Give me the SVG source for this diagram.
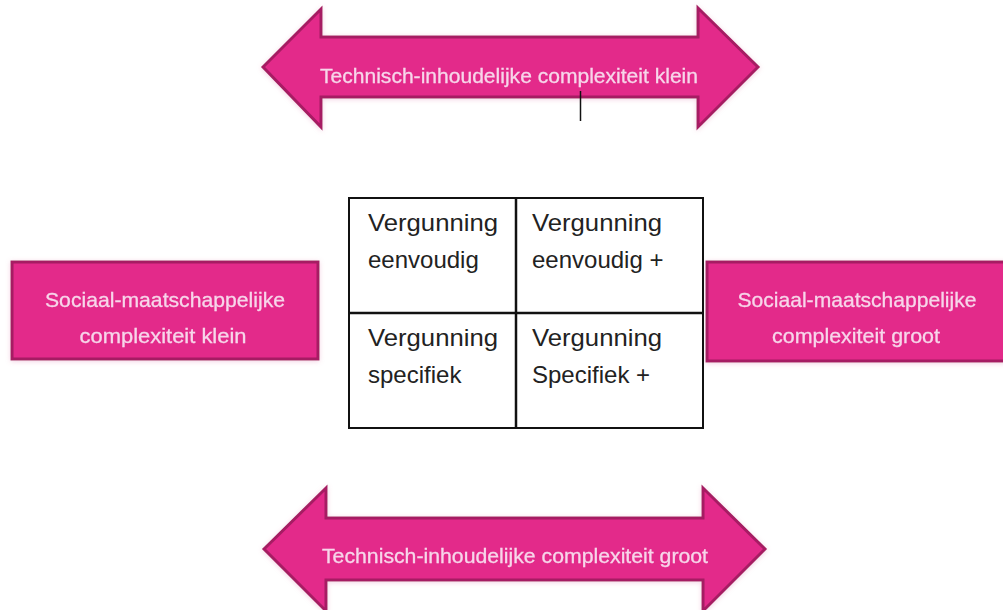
<svg xmlns="http://www.w3.org/2000/svg" width="1003" height="610" viewBox="0 0 1003 610">
  <defs>
    <filter id="glow" x="-10%" y="-20%" width="120%" height="140%">
      <feGaussianBlur in="SourceAlpha" stdDeviation="2.5"/>
      <feOffset dx="0" dy="1" result="b"/>
      <feFlood flood-color="#e9a6c8" flood-opacity="0.5"/>
      <feComposite in2="b" operator="in"/>
      <feMerge><feMergeNode/><feMergeNode in="SourceGraphic"/></feMerge>
    </filter>
  </defs>
  <style>
    .pink { fill: #e3298a; stroke: #a61c63; stroke-width: 3; stroke-linejoin: miter; }
    .ptxt { font-family: "Liberation Sans", Arial, sans-serif; font-size: 21px; fill: #f7d6ea; text-anchor: middle; stroke: #f7d6ea; stroke-width: 0.3; }
    .gtxt { font-family: "Liberation Sans", Arial, sans-serif; font-size: 24px; fill: #222222; }
    .grid { fill: none; stroke: #111111; stroke-width: 2; }
    .mid { stroke: #111111; stroke-width: 2.5; }
  </style>
  <rect width="1003" height="610" fill="#ffffff"/>

  <g id="arrow-top" filter="url(#glow)">
    <polygon class="pink" points="263,67 321,9 321,37 698,37 698,8 758,67 698,127 698,97 321,97 321,127"/>
    <text class="ptxt" x="509" y="83" textLength="378" lengthAdjust="spacingAndGlyphs">Technisch-inhoudelijke complexiteit klein</text>
  </g>

  <g id="arrow-bottom" filter="url(#glow)">
    <polygon class="pink" points="264,549 326,488 326,518 703,518 703,488 765,549 703,611 703,580 326,580 326,611"/>
    <text class="ptxt" x="515" y="563" textLength="386" lengthAdjust="spacingAndGlyphs">Technisch-inhoudelijke complexiteit groot</text>
  </g>

  <g id="box-left" filter="url(#glow)">
    <rect class="pink" x="12" y="262" width="306" height="97"/>
    <text class="ptxt" x="165" y="307" textLength="240" lengthAdjust="spacingAndGlyphs">Sociaal-maatschappelijke</text>
    <text class="ptxt" x="163" y="343" textLength="167" lengthAdjust="spacingAndGlyphs">complexiteit klein</text>
  </g>

  <g id="box-right" filter="url(#glow)">
    <rect class="pink" x="707" y="262" width="302" height="99"/>
    <text class="ptxt" x="857" y="307" textLength="239" lengthAdjust="spacingAndGlyphs">Sociaal-maatschappelijke</text>
    <text class="ptxt" x="856" y="343" textLength="168" lengthAdjust="spacingAndGlyphs">complexiteit groot</text>
  </g>

  <g id="cursor">
    <line x1="580.5" y1="91" x2="580.5" y2="121" stroke="#111111" stroke-width="1.5"/>
  </g>

  <g id="matrix">
    <rect class="grid" x="349" y="198" width="354" height="230"/>
    <line class="mid" x1="516" y1="198" x2="516" y2="428"/>
    <line class="mid" x1="349" y1="313" x2="703" y2="313"/>
  </g>

  <g id="cell-tl">
    <text class="gtxt" x="368" y="231" textLength="130" lengthAdjust="spacingAndGlyphs">Vergunning</text>
    <text class="gtxt" x="368" y="268">eenvoudig</text>
  </g>
  <g id="cell-tr">
    <text class="gtxt" x="532" y="231" textLength="130" lengthAdjust="spacingAndGlyphs">Vergunning</text>
    <text class="gtxt" x="532" y="268">eenvoudig +</text>
  </g>
  <g id="cell-bl">
    <text class="gtxt" x="368" y="346" textLength="130" lengthAdjust="spacingAndGlyphs">Vergunning</text>
    <text class="gtxt" x="368" y="383">specifiek</text>
  </g>
  <g id="cell-br">
    <text class="gtxt" x="532" y="346" textLength="130" lengthAdjust="spacingAndGlyphs">Vergunning</text>
    <text class="gtxt" x="532" y="383">Specifiek +</text>
  </g>
</svg>
